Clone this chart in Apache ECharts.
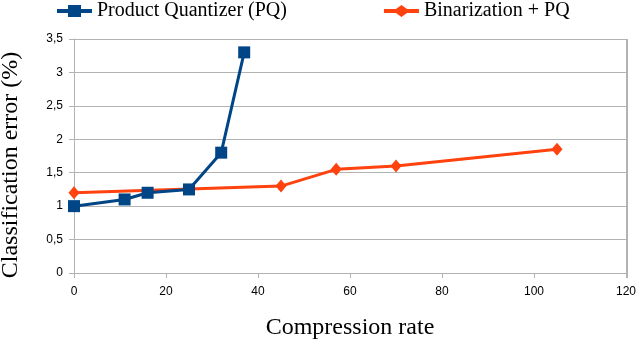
<!DOCTYPE html>
<html>
<head>
<meta charset="utf-8">
<script src="https://cdn.jsdelivr.net/npm/echarts@6/dist/echarts.min.js"></script>
<style>
  html, body { margin: 0; padding: 0; background: #fff; }
  #chart { width: 640px; height: 341px; }
</style>
</head>
<body>
<div id="chart"></div>
<script>
// data
const pqRate = [0, 11, 16, 25, 32, 37];
const pqError = [1.0, 1.1, 1.2, 1.25, 1.8, 3.3];
const binRate = [0, 45, 57, 70, 105];
const binError = [1.2, 1.3, 1.55, 1.6, 1.85];
const seriesNames = ["Product Quantizer (PQ)", "Binarization + PQ"];

const blue = "#004586";
const orange = "#ff420e";

const chart = echarts.init(document.getElementById("chart"));

const zip = (xs, ys) => xs.map((x, i) => [x, ys[i]]);

const option = {
  animation: false,
  grid: { left: 74, right: 14, top: 39, bottom: 68, outerBoundsMode: "none" },
  legend: {
    top: -4,
    left: 52,
    itemGap: 97,
    itemWidth: 35,
    itemHeight: 12,
    textStyle: { fontFamily: "Liberation Serif", fontSize: 20, color: "#000" },
    data: [
      { name: seriesNames[0], icon: "path://M0,4 H11 V0 H24 V4 H35 V8 H24 V12 H11 V8 H0 Z" },
      { name: seriesNames[1], icon: "path://M0,4 H12 L17.5,0 L23,4 H35 V8 H23 L17.5,12 L12,8 H0 Z" }
    ]
  },
  xAxis: {
    type: "value",
    min: 0, max: 120, interval: 20,
    name: "Compression rate",
    nameLocation: "middle",
    nameGap: 43,
    nameTextStyle: { fontFamily: "Liberation Serif", fontSize: 24, color: "#000" },
    axisLine: { lineStyle: { color: "#b3b3b3", width: 1 } },
    axisTick: { show: true, length: 5, lineStyle: { color: "#b3b3b3" } },
    axisLabel: { fontFamily: "Liberation Sans", fontSize: 12, color: "#000", margin: 13 },
    splitLine: { show: false }
  },
  yAxis: {
    type: "value",
    min: 0, max: 3.5, interval: 0.5,
    name: "Classification error (%)",
    nameLocation: "middle",
    nameGap: 51,
    nameTextStyle: {
      fontFamily: "Liberation Serif", fontSize: 24, color: "#000",
      padding: [0, 18, 0, 0]
    },
    axisLine: { show: true, lineStyle: { color: "#b3b3b3", width: 1 } },
    axisTick: { show: true, length: 5, lineStyle: { color: "#b3b3b3" } },
    axisLabel: {
      fontFamily: "Liberation Sans", fontSize: 12, color: "#000", margin: 11,
      formatter: (v) => String(v).replace(".", ",")
    },
    splitLine: { show: true, lineStyle: { color: "#b3b3b3", width: 1 } }
  },
  series: [
    {
      name: seriesNames[0],
      type: "line",
      data: zip(pqRate, pqError),
      symbol: "rect",
      symbolSize: 12,
      lineStyle: { color: blue, width: 3 },
      itemStyle: { color: blue },
      z: 3
    },
    {
      name: seriesNames[1],
      type: "line",
      data: zip(binRate, binError),
      symbol: "diamond",
      symbolSize: [11, 13],
      lineStyle: { color: orange, width: 3 },
      itemStyle: { color: orange },
      z: 2
    }
  ],
  graphic: [
    {
      type: "line",
      shape: { x1: 627, y1: 39, x2: 627, y2: 278 },
      style: { stroke: "#b3b3b3", lineWidth: 2 }
    }
  ]
};

chart.setOption(option);
</script>
</body>
</html>
